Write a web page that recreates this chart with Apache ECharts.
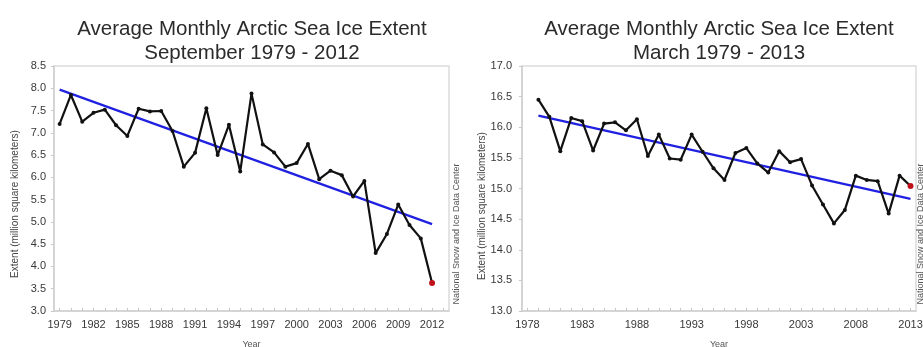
<!DOCTYPE html>
<html>
<head>
<meta charset="utf-8">
<script src="https://cdn.jsdelivr.net/npm/echarts@6/dist/echarts.min.js"></script>
<style>
  html, body { margin: 0; padding: 0; background: #fff; }
  #chart { width: 923px; height: 347px; }
</style>
</head>
<body>
<div id="chart"></div>
<script>
// September minimum extent, 1979-2012 (million km²)
const septYears = [1979,1980,1981,1982,1983,1984,1985,1986,1987,1988,1989,1990,1991,1992,1993,1994,1995,1996,1997,1998,1999,2000,2001,2002,2003,2004,2005,2006,2007,2008,2009,2010,2011,2012];
const septExtent = [7.20,7.85,7.25,7.45,7.52,7.17,6.93,7.54,7.48,7.49,7.04,6.24,6.55,7.55,6.50,7.18,6.13,7.88,6.74,6.56,6.24,6.32,6.75,5.96,6.15,6.05,5.57,5.92,4.30,4.73,5.39,4.93,4.63,3.63];
const septTrendYears = [1979, 2012];
const septTrend = [7.97, 4.95];
const septTickLabels = [1979,1982,1985,1988,1991,1994,1997,2000,2003,2006,2009,2012];
const septMinorTicks = [1979,1980,1981,1982,1983,1984,1985,1986,1987,1988,1989,1990,1991,1992,1993,1994,1995,1996,1997,1998,1999,2000,2001,2002,2003,2004,2005,2006,2007,2008,2009,2010,2011,2012,2013];

// March maximum extent, 1979-2013 (million km²)
const marYears = [1979,1980,1981,1982,1983,1984,1985,1986,1987,1988,1989,1990,1991,1992,1993,1994,1995,1996,1997,1998,1999,2000,2001,2002,2003,2004,2005,2006,2007,2008,2009,2010,2011,2012,2013];
const marExtent = [16.45,16.17,15.61,16.15,16.10,15.62,16.06,16.08,15.95,16.13,15.53,15.88,15.49,15.47,15.88,15.60,15.33,15.14,15.58,15.66,15.41,15.26,15.61,15.43,15.48,15.05,14.74,14.43,14.65,15.21,15.14,15.12,14.59,15.21,15.04];
const marTrendYears = [1979, 2013];
const marTrend = [16.19, 14.83];
const marTickLabels = [1978,1983,1988,1993,1998,2003,2008,2013];
const marMinorTicks = [1978,1979,1980,1981,1982,1983,1984,1985,1986,1987,1988,1989,1990,1991,1992,1993,1994,1995,1996,1997,1998,1999,2000,2001,2002,2003,2004,2005,2006,2007,2008,2009,2010,2011,2012,2013];

const FONT = '"Liberation Sans", Arial, sans-serif';

function pointsWithLatest(xs, ys) {
  return xs.map((x, i) => {
    const item = { value: [x, ys[i]] };
    if (i === xs.length - 1) {
      item.itemStyle = { color: '#c0101a' };
      item.symbolSize = 6;
    }
    return item;
  });
}

function pairs(xs, ys) { return xs.map((x, i) => [x, ys[i]]); }

function xAxisFor(gridIndex, min, max, labels, ticks) {
  return {
    type: 'value', gridIndex, min, max,
    name: 'Year', nameLocation: 'middle', nameGap: 29,
    nameTextStyle: { fontFamily: FONT, fontSize: 9, color: '#555' },
    axisLine: { show: true, lineStyle: { color: '#cfcfcf', width: 1.5 } },
    axisTick: { show: true, inside: true, length: 3, customValues: ticks, lineStyle: { color: '#c8c8c8' } },
    axisLabel: { customValues: labels, formatter: v => String(v), fontFamily: FONT, fontSize: 11, color: '#383838', margin: 8 },
    splitLine: { show: false }
  };
}

function yAxisFor(gridIndex, min, max, margin) {
  return {
    type: 'value', gridIndex, min, max, interval: 0.5,
    axisLine: { show: true, lineStyle: { color: '#cfcfcf', width: 1.5 } },
    axisTick: { show: true, length: 3, lineStyle: { color: '#c8c8c8' } },
    axisLabel: { formatter: v => v.toFixed(1), fontFamily: FONT, fontSize: 11, color: '#383838', margin },
    splitLine: { show: false }
  };
}

function seriesFor(axisIndex, xs, ys, txs, tys) {
  return [
    {
      type: 'line', xAxisIndex: axisIndex, yAxisIndex: axisIndex,
      data: pairs(txs, tys), symbol: 'none',
      lineStyle: { color: '#2020e0', width: 2.2 }, z: 2, silent: true
    },
    {
      type: 'line', xAxisIndex: axisIndex, yAxisIndex: axisIndex,
      data: pointsWithLatest(xs, ys),
      symbol: 'circle', symbolSize: 4, showAllSymbol: true,
      itemStyle: { color: '#111' },
      lineStyle: { color: '#111', width: 2.2 }, z: 3, silent: true
    }
  ];
}

function sideText(x, y, text, size, color) {
  return {
    type: 'text', x, y, rotation: Math.PI / 2,
    style: { text, fontFamily: FONT, fontSize: size, fill: color, align: 'center', verticalAlign: 'middle' }
  };
}

const chart = echarts.init(document.getElementById('chart'), null, { renderer: 'canvas' });
chart.setOption({
  backgroundColor: '#fff',
  animation: false,
  title: [
    {
      text: 'Average Monthly Arctic Sea Ice Extent\nSeptember 1979 - 2012',
      left: 247, top: 12, textAlign: 'center',
      textStyle: { fontFamily: FONT, fontSize: 20.5, fontWeight: 'normal', color: '#2b2b2b', lineHeight: 24, align: 'center' }
    },
    {
      text: 'Average Monthly Arctic Sea Ice Extent\nMarch 1979 - 2013',
      left: 714, top: 12, textAlign: 'center',
      textStyle: { fontFamily: FONT, fontSize: 20.5, fontWeight: 'normal', color: '#2b2b2b', lineHeight: 24, align: 'center' }
    }
  ],
  grid: [
    { left: 54, top: 66, width: 395, height: 245, show: true, borderColor: '#dcdcdc', borderWidth: 1.5, containLabel: false, outerBoundsMode: 'none' },
    { left: 522, top: 66, width: 394, height: 245, show: true, borderColor: '#dcdcdc', borderWidth: 1.5, containLabel: false, outerBoundsMode: 'none' }
  ],
  xAxis: [
    xAxisFor(0, 1978.5, 2013.5, septTickLabels, septMinorTicks),
    xAxisFor(1, 1977.5, 2013.5, marTickLabels, marMinorTicks)
  ],
  yAxis: [
    yAxisFor(0, 3, 8.5, 8),
    yAxisFor(1, 13, 17, 10)
  ],
  series: [
    ...seriesFor(0, septYears, septExtent, septTrendYears, septTrend),
    ...seriesFor(1, marYears, marExtent, marTrendYears, marTrend)
  ],
  graphic: [
    sideText(15, 204, 'Extent (million square kilometers)', 10, '#444'),
    sideText(482, 206, 'Extent (million square kilometers)', 10, '#444'),
    sideText(457, 234, 'National Snow and Ice Data Center', 9, '#555'),
    sideText(921, 234, 'National Snow and Ice Data Center', 9, '#555')
  ]
});
</script>
</body>
</html>
